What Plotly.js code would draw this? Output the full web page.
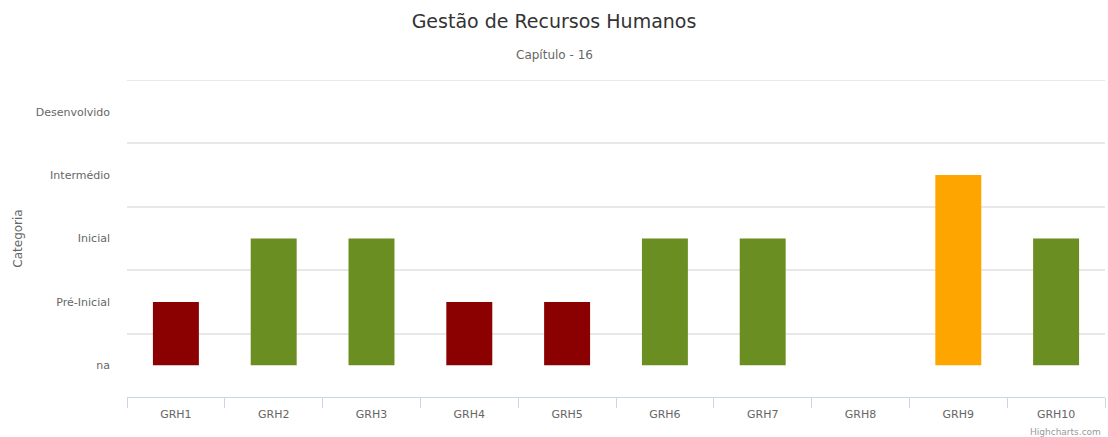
<!DOCTYPE html>
<html>
<head>
<meta charset="utf-8">
<script src="https://cdn.plot.ly/plotly-3.0.1.min.js"></script>
<style>html,body{margin:0;padding:0;background:#fff;}#chart{width:1108px;height:437px;}</style>
</head>
<body>
<div id="chart"></div>
<script>
const categories = ["GRH1","GRH2","GRH3","GRH4","GRH5","GRH6","GRH7","GRH8","GRH9","GRH10"];
const levelValues = [1, 2, 2, 1, 1, 2, 2, 0, 3, 2];
const barColors = ["#8B0000","#6B8E23","#6B8E23","#8B0000","#8B0000","#6B8E23","#6B8E23","#6B8E23","#FFA500","#6B8E23"];
const levelTickVals = [0, 1, 2, 3, 4];
const levelTickText = ["na", "Pré-Inicial", "Inicial", "Intermédio", "Desenvolvido"];
const gridVals = [0.5, 1.5, 2.5, 3.5, 4.5];

const font = "'DejaVu Sans', 'Open Sans', sans-serif";

const trace = {
  type: "bar",
  x: categories,
  y: levelValues,
  marker: { color: barColors, line: { width: 0 } },
  width: 0.47,
  hoverinfo: "x+y"
};

const layout = {
  width: 1108,
  height: 437,
  margin: { l: 127, r: 3, t: 80, b: 40 },
  paper_bgcolor: "#ffffff",
  plot_bgcolor: "#ffffff",
  font: { family: font, color: "#666666", size: 11 },
  title: {
    text: "Gestão de Recursos Humanos",
    font: { family: font, size: 19, color: "#333333" },
    x: 0.5, xanchor: "center", xref: "container",
    y: 1 - 21 / 437, yref: "container", yanchor: "middle"
  },
  xaxis: {
    type: "category",
    showgrid: false,
    showline: true,
    linecolor: "#ccd6eb",
    linewidth: 1,
    ticks: "outside",
    tickson: "boundaries",
    ticklen: 10,
    tickcolor: "#ccd6eb",
    ticklabelstandoff: 7,
    tickfont: { family: font, size: 11, color: "#666666" },
    fixedrange: true,
    zeroline: false
  },
  yaxis: {
    range: [-0.5, 4.5],
    tickmode: "array",
    tickvals: levelTickVals,
    ticktext: levelTickText,
    showgrid: false,
    zeroline: false,
    showline: false,
    ticks: "",
    ticklabelstandoff: 16,
    tickfont: { family: font, size: 11, color: "#666666" },
    minor: { tickmode: "array", tickvals: gridVals, showgrid: true, gridcolor: "#e8e8e8", gridwidth: 2, ticks: "" },
    title: { text: "Categoria", font: { family: font, size: 12, color: "#666666" }, standoff: 10 },
    fixedrange: true
  },
  shapes: [
    {
      type: "line", xref: "paper", yref: "y",
      x0: 0, x1: 1, y0: gridVals[gridVals.length - 1], y1: gridVals[gridVals.length - 1],
      line: { color: "#e8e8e8", width: 2 }, layer: "below"
    }
  ],
  annotations: [
    {
      text: "Capítulo - 16",
      xref: "paper", yref: "paper",
      x: (554 - 127) / 978, y: 1 + (80 - 55) / 317,
      xanchor: "center", yanchor: "middle",
      showarrow: false,
      font: { family: font, size: 12, color: "#666666" }
    },
    {
      text: "Highcharts.com",
      xref: "paper", yref: "paper",
      x: (1103 - 127) / 978, y: -(432 - 397) / 317,
      xanchor: "right", yanchor: "middle",
      showarrow: false,
      font: { family: font, size: 9, color: "#999999" }
    }
  ],
  showlegend: false,
  bargap: 0.53
};

Plotly.newPlot("chart", [trace], layout, { displayModeBar: false, staticPlot: false });
</script>
</body>
</html>
